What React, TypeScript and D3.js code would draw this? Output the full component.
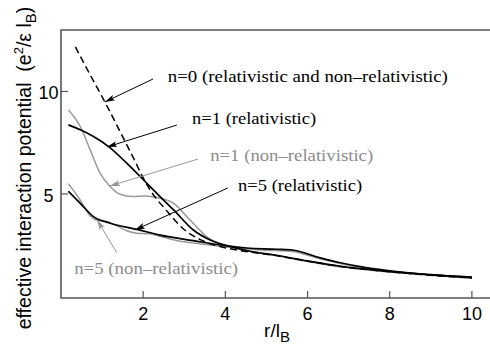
import React from 'react';
import * as d3 from 'd3';

// tick values
const xTicks = [2, 4, 6, 8, 10];
const yTicks = [5, 10];

// curves: [r/lB, potential]
const n0Both: [number, number][] = [
  [0.35, 12.18], [0.71, 10.81], [1.08, 9.44], [1.44, 8.03], [1.81, 6.56], [2.0, 5.78],
  [2.17, 5.19], [2.58, 4.16], [2.98, 3.29], [3.39, 2.77], [3.87, 2.43], [4.28, 2.26],
  [4.6, 2.16], [5.2, 2.0], [6, 1.72], [6.8, 1.46], [8, 1.2], [9, 1.03], [10, 0.9],
];
const n1Rel: [number, number][] = [
  [0.18, 8.37], [0.47, 8.13], [0.79, 7.8], [1.16, 7.31], [1.6, 6.5], [2.01, 5.68],
  [2.41, 4.87], [2.74, 4.22], [3.22, 3.24], [3.63, 2.75], [4.2, 2.39], [4.6, 2.2],
  [5.2, 2.02], [6, 1.73], [6.8, 1.47], [8, 1.21], [9, 1.05], [10, 0.91],
];
const n1NonRel: [number, number][] = [
  [0.18, 9.1], [0.47, 8.29], [0.71, 7.15], [0.95, 6.01], [1.2, 5.35], [1.44, 4.98],
  [1.73, 4.87], [2.05, 4.9], [2.35, 4.82], [2.74, 4.54], [3.14, 3.73], [3.55, 2.91],
  [3.95, 2.51], [4.36, 2.3], [5.2, 2.0], [6, 1.7], [6.8, 1.44], [8, 1.19], [9, 1.03], [10, 0.89],
];
const n5Rel: [number, number][] = [
  [0.18, 5.13], [0.47, 4.54], [0.79, 3.89], [1.2, 3.57], [1.85, 3.27], [2.41, 2.99],
  [3.22, 2.72], [4.04, 2.46], [4.52, 2.36], [5.25, 2.3], [5.66, 2.25], [6.31, 1.88],
  [6.8, 1.64], [7.28, 1.45], [8, 1.25], [9, 1.06], [10, 0.94],
];
const n5NonRel: [number, number][] = [
  [0.18, 5.5], [0.45, 4.75], [0.7, 3.95], [0.9, 3.7], [1.1, 3.66], [1.35, 3.45],
  [1.6, 3.2], [1.85, 3.08], [2.15, 3.05], [2.5, 2.88], [3.0, 2.66], [3.4, 2.56],
  [3.8, 2.46], [4.2, 2.38], [4.85, 2.26], [5.58, 2.2], [6.3, 1.84], [7.2, 1.42],
  [8, 1.22], [9, 1.05], [10, 0.92],
];

const BLACK = '#000';
const GRAY = '#999';
const GRAY_TEXT = '#8c8c8c';
const SANS = "'Liberation Sans', Arial, Helvetica, sans-serif";
const SERIF = "'Liberation Serif', 'Times New Roman', 'DejaVu Serif', serif";

const series = [
  { data: n1NonRel, color: GRAY, width: 1.5, dash: undefined },
  { data: n5NonRel, color: GRAY, width: 1.5, dash: undefined },
  { data: n0Both, color: BLACK, width: 1.5, dash: '7,4' },
  { data: n1Rel, color: BLACK, width: 1.7, dash: undefined },
  { data: n5Rel, color: BLACK, width: 1.7, dash: undefined },
];

// labels with arrows, in data units
const annotations = [
  { text: 'n=0 (relativistic and non–relativistic)', color: BLACK, at: [2.6, 10.46], len: 280, from: [2.24, 10.61], to: [1.07, 9.49] },
  { text: 'n=1 (relativistic)', color: BLACK, at: [3.19, 8.41], len: 124, from: [2.82, 8.36], to: [1.12, 7.29] },
  { text: 'n=1 (non–relativistic)', color: GRAY_TEXT, at: [3.63, 6.61], len: 163, from: [3.33, 6.7], to: [1.19, 5.39] },
  { text: 'n=5 (relativistic)', color: BLACK, at: [4.31, 5.14], len: 124, from: [4.06, 5.29], to: [1.8, 3.24] },
  { text: 'n=5 (non–relativistic)', color: GRAY_TEXT, at: [0.32, 1.09], len: 164, from: [1.36, 2.12], to: [0.88, 3.73] },
];

const W = 490;
const H = 347;

export default function App() {
  const x = d3.scaleLinear().domain([0, 10.6]).range([61, 61 + 41.09 * 10.6]);
  const y = d3.scaleLinear().domain([-0.08, 13.0]).range([298, 30]);

  const line = d3
    .line<[number, number]>()
    .x(d => x(d[0]))
    .y(d => y(d[1]))
    .curve(d3.curveMonotoneX);

  const [x0, x1] = x.range();
  const [yb, yt] = y.range();
  const axisColor = '#555';

  return (
    <svg width={W} height={H} style={{ position: 'absolute', left: 0, top: 0, background: '#fff' }}>
      <defs>
        <marker id="ahBlack" viewBox="0 0 10 6" refX="10" refY="3" markerWidth="10" markerHeight="6" markerUnits="userSpaceOnUse" orient="auto">
          <path d="M0,0 L10,3 L0,6 L2,3 Z" fill={BLACK} />
        </marker>
        <marker id="ahGray" viewBox="0 0 10 6" refX="10" refY="3" markerWidth="10" markerHeight="6" markerUnits="userSpaceOnUse" orient="auto">
          <path d="M0,0 L10,3 L0,6 L2,3 Z" fill={GRAY} />
        </marker>
      </defs>

      {/* curves */}
      {series.map((s, i) => (
        <path
          key={i}
          d={line(s.data) || ''}
          fill="none"
          stroke={s.color}
          strokeWidth={s.width}
          strokeDasharray={s.dash}
        />
      ))}

      {/* frame */}
      <path d={`M${x1},${yt} L${x0},${yt} L${x0},${yb} L${x1},${yb}`} fill="none" stroke={axisColor} strokeWidth={1.6} />

      {/* x ticks */}
      {xTicks.map(t => (
        <g key={t} transform={`translate(${x(t)},${yb})`}>
          <line y2={-7} stroke={axisColor} strokeWidth={1.2} />
          <text y={21.5} textAnchor="middle" style={{ fontFamily: SANS, fontSize: 18 }}>
            {t}
          </text>
        </g>
      ))}

      {/* y ticks */}
      {yTicks.map(t => (
        <g key={t} transform={`translate(${x0},${y(t)})`}>
          <line x2={7} stroke={axisColor} strokeWidth={1.2} />
          <text x={-12.5} y={8} textAnchor="middle" style={{ fontFamily: SANS, fontSize: 18 }}>
            {t}
          </text>
        </g>
      ))}

      {/* annotations */}
      {annotations.map((a, i) => (
        <g key={i}>
          <line
            x1={x(a.from[0])}
            y1={y(a.from[1])}
            x2={x(a.to[0])}
            y2={y(a.to[1])}
            stroke={a.color === BLACK ? BLACK : GRAY}
            strokeWidth={1}
            markerEnd={a.color === BLACK ? 'url(#ahBlack)' : 'url(#ahGray)'}
          />
          <text
            x={x(a.at[0])}
            y={y(a.at[1])}
            fill={a.color}
            style={{ fontFamily: SERIF, fontSize: 17 }}
            textLength={a.len}
            lengthAdjust="spacingAndGlyphs"
          >
            {a.text}
          </text>
        </g>
      ))}

      {/* axis titles */}
      <text x={277} y={337} textAnchor="middle" style={{ fontFamily: SANS, fontSize: 19 }}>
        r/l<tspan dy={5} style={{ fontSize: 15 }}>B</tspan>
      </text>
      <text
        transform="translate(31,168) rotate(-90)"
        textAnchor="middle"
        style={{ fontFamily: SANS, fontSize: 19.5, whiteSpace: 'pre' }}
      >
        {'effective interaction potential  (e'}
        <tspan dy={-8} style={{ fontSize: 13 }}>2</tspan>
        <tspan dy={8}>{'/ε l'}</tspan>
        <tspan dy={5} style={{ fontSize: 15 }}>B</tspan>
        <tspan dy={-5}>)</tspan>
      </text>
    </svg>
  );
}
